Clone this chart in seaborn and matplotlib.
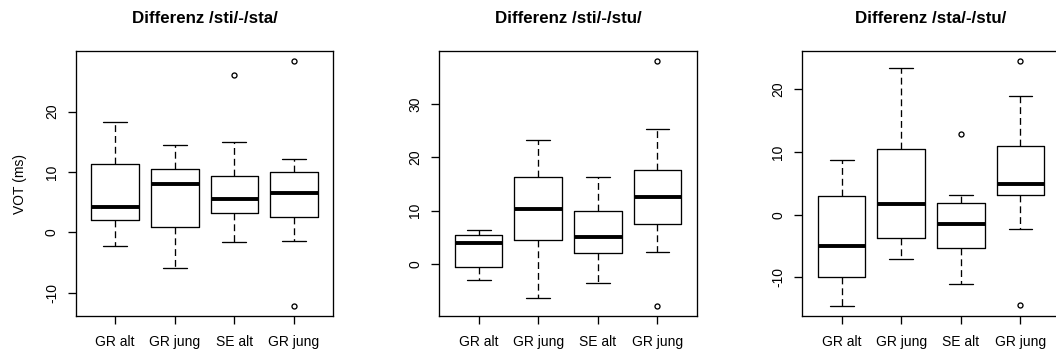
import matplotlib
matplotlib.use("Agg")
import matplotlib.pyplot as plt
import seaborn as sns

# Group labels along the x axis and the panel titles
groups = ["GR alt", "GR jung", "SE alt", "GR jung"]
titles = ["Differenz /sti/-/sta/", "Differenz /sti/-/stu/", "Differenz /sta/-/stu/"]
ylabel = "VOT (ms)"

# Five-number summaries (lower whisker, Q1, median, Q3, upper whisker) and outliers
sti_sta_low = [-2.3, -5.9, -1.55, -1.45]
sti_sta_q1 = [2.0, 0.95, 3.15, 2.6]
sti_sta_med = [4.25, 8.0, 5.6, 6.45]
sti_sta_q3 = [11.4, 10.55, 9.4, 10.05]
sti_sta_high = [18.2, 14.5, 14.9, 12.1]
sti_sta_out = [[], [], [26.0], [28.4, -12.2]]

sti_stu_low = [-2.9, -6.3, -3.5, 2.25]
sti_stu_q1 = [-0.55, 4.6, 2.0, 7.5]
sti_stu_med = [3.95, 10.3, 5.05, 12.65]
sti_stu_q3 = [5.5, 16.3, 9.9, 17.6]
sti_stu_high = [6.35, 23.3, 16.4, 25.3]
sti_stu_out = [[], [], [], [38.1, -7.9]]

sta_stu_low = [-14.6, -7.05, -11.1, -2.35]
sta_stu_q1 = [-9.9, -3.7, -5.35, 3.2]
sta_stu_med = [-5.0, 1.7, -1.5, 4.9]
sta_stu_q3 = [2.95, 10.45, 1.9, 11.0]
sta_stu_high = [8.65, 23.4, 3.15, 18.95]
sta_stu_out = [[], [], [12.85], [24.55, -14.35]]

yticks = [[-10, 0, 10, 20], [0, 10, 20, 30], [-10, 0, 10, 20]]

panels = [
    (sti_sta_low, sti_sta_q1, sti_sta_med, sti_sta_q3, sti_sta_high, sti_sta_out),
    (sti_stu_low, sti_stu_q1, sti_stu_med, sti_stu_q3, sti_stu_high, sti_stu_out),
    (sta_stu_low, sta_stu_q1, sta_stu_med, sta_stu_q3, sta_stu_high, sta_stu_out),
]

sns.set_theme(style="ticks", rc={
    "axes.edgecolor": "black",
    "axes.labelcolor": "black",
    "text.color": "black",
    "xtick.color": "black",
    "ytick.color": "black",
    "axes.linewidth": 0.95,
})
plt.rcParams["font.family"] = ["Liberation Sans", "DejaVu Sans"]

W, H = 1056, 354
fig = plt.figure(figsize=(W / 100, H / 100), dpi=100)

lefts = [75.8, 439.3, 802.3]
ax_w, top_px, bot_px = 257.5, 51, 316

lw = 0.95
for i, (lo, q1, med, q3, hi, out) in enumerate(panels):
    ax = fig.add_axes([lefts[i] / W, 1 - bot_px / H, ax_w / W, (bot_px - top_px) / H])
    stats = [
        dict(whislo=lo[k], q1=q1[k], med=med[k], q3=q3[k], whishi=hi[k], fliers=out[k])
        for k in range(len(groups))
    ]
    positions = list(range(1, len(groups) + 1))
    ax.bxp(
        stats, positions=positions, widths=0.8, capwidths=0.4, patch_artist=False,
        boxprops=dict(color="black", linewidth=lw),
        whiskerprops=dict(color="black", linewidth=lw, linestyle=(0, (5.2, 3.0))),
        capprops=dict(color="black", linewidth=lw),
        medianprops=dict(color="black", linewidth=2.8, solid_capstyle="butt"),
        flierprops=dict(marker="o", markerfacecolor="none", markeredgecolor="black",
                        markersize=3.6, markeredgewidth=lw, linestyle="none"),
    )
    vals = lo + hi + [v for o in out for v in o]
    vmin, vmax = min(vals), max(vals)
    pad = 0.04 * (vmax - vmin)
    ax.set_ylim(vmin - pad, vmax + pad)
    ax.set_xlim(0.34, len(groups) + 0.66)
    ax.set_xticks(positions)
    ax.set_xticklabels(groups, fontsize=10)
    ax.set_yticks(yticks[i])
    ax.set_yticklabels([str(t) for t in yticks[i]], fontsize=10, rotation=90, va="center")
    ax.tick_params(axis="both", direction="out", length=6.1, width=lw)
    ax.tick_params(axis="y", pad=6)
    ax.tick_params(axis="x", pad=7.8)
    for s in ax.spines.values():
        s.set_visible(True)
        s.set_linewidth(lw)
    ax.set_title(titles[i], fontsize=12.2, fontweight="bold", pad=20.4)
    if i == 0:
        ax.set_ylabel(ylabel, fontsize=10, labelpad=13)

fig.savefig("out.png", dpi=100, facecolor="white")
